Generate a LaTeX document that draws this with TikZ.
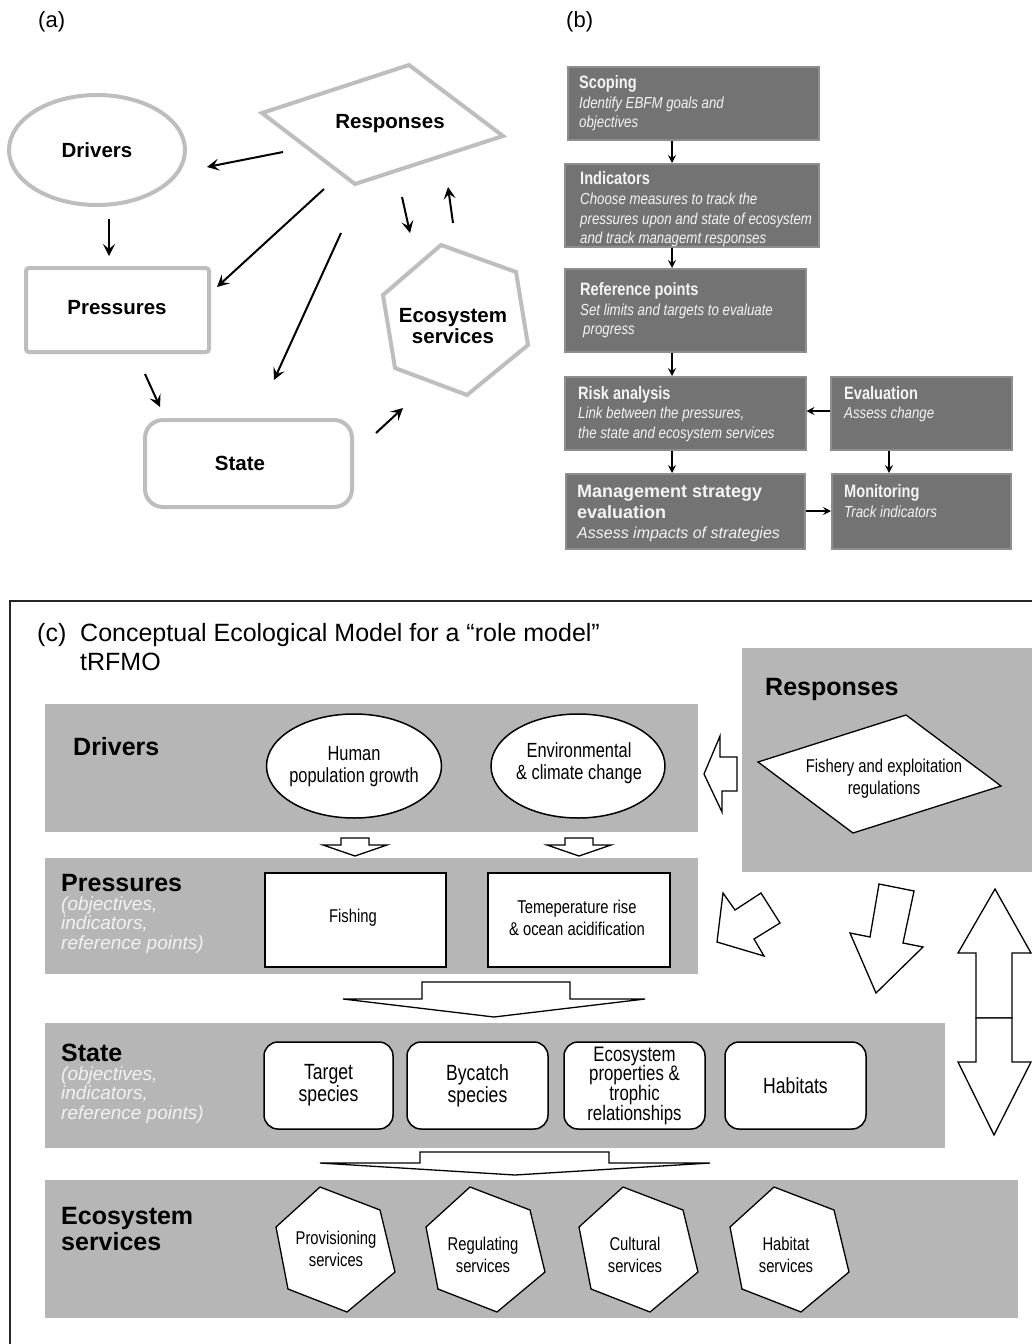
\documentclass[tikz,border=0pt]{standalone}
\usepackage{fontspec}
\setmainfont{Liberation Sans}
\newfontfamily\nar[FakeStretch=0.8]{Liberation Sans}
\newfontfamily\narbt[FakeStretch=0.81]{Liberation Sans}
\newfontfamily\narbi[FakeStretch=0.83]{Liberation Sans}
\usetikzlibrary{shapes.geometric,arrows.meta,calc}
\definecolor{agray}{HTML}{BEBEBE}
\definecolor{bfill}{HTML}{737373}
\definecolor{bline}{HTML}{8E8E8E}
\definecolor{bwhite}{HTML}{F4F4F4}
\definecolor{bandgray}{HTML}{B6B6B6}
\definecolor{itg}{HTML}{F2F2F2}
\begin{document}
\begin{tikzpicture}[x=1pt,y=-1pt,
  agr/.style={draw=agray, line width=4pt},
  aarrow/.style={line width=2pt, -{Stealth[length=12pt,width=12pt,inset=5pt]}},
  atxt/.style={font=\fontsize{20.5}{21}\selectfont\bfseries, align=center, inner sep=0pt},
  bbox/.style={fill=bfill, draw=bline, line width=1.5pt, anchor=north west, inner sep=0pt},
  btitle/.style={font=\narbt\fontsize{18}{20}\selectfont\bfseries, text=bwhite, anchor=base west, inner sep=0pt},
  bital/.style={font=\narbi\fontsize{16}{19}\selectfont\itshape, text=bwhite, anchor=base west, inner sep=0pt},
  mtitle/.style={font=\fontsize{18}{20}\selectfont\bfseries, text=bwhite, anchor=base west, inner sep=0pt},
  mital/.style={font=\fontsize{16}{19}\selectfont\itshape, text=bwhite, anchor=base west, inner sep=0pt},
  barrow/.style={line width=1.5pt, -{Stealth[length=8pt,width=8pt,inset=3pt]}},
  bandbox/.style={fill=bandgray, anchor=north west, inner sep=0pt},
  clabel/.style={font=\fontsize{25}{30}\selectfont\bfseries, anchor=base west, inner sep=0pt},
  cital/.style={font=\fontsize{19}{20}\selectfont\itshape, text=itg, anchor=base west, inner sep=0pt},
  wbox/.style={draw, fill=white, line width=1.5pt, inner sep=0pt, font=\nar\fontsize{18.5}{22}\selectfont, align=center},
  stbox/.style={draw, fill=white, line width=1.5pt, inner sep=0pt, rounded corners=14pt, font=\nar\fontsize{22}{22}\selectfont, align=center, minimum height=87pt},
  wtxt/.style={font=\nar\fontsize{18.5}{22}\selectfont, align=center, inner sep=0pt},
  blockarrow/.style={draw, fill=white, line width=1.3pt, line join=miter},
  hexc/.style={draw, fill=white, line width=1.3pt, line join=miter},
  ttl/.style={font=\fontsize{25}{30}\selectfont, anchor=base west, inner sep=0pt}
]
\useasboundingbox (0,0) rectangle (1032,1344);
\fill[white] (0,0) rectangle (1032,1344);

% ---------------- panel labels
\node[font=\fontsize{22}{24}\selectfont, anchor=west, inner sep=0pt] (la) at (38,22) {(a)};
\node[font=\fontsize{22}{24}\selectfont, anchor=west, inner sep=0pt] (lb) at (566,22) {(b)};

% ---------------- panel (a)
\node[ellipse, agr, minimum width=176pt, minimum height=110pt, inner sep=0pt] (adrv) at (97,150) {};
\node[atxt] (adrvt) at (97,150) {Drivers};
\coordinate (r1) at (262,113);
\coordinate (r2) at (409,65);
\coordinate (r3) at (503,136);
\coordinate (r4) at (355,184);
\draw[agr, line join=miter] (r1) -- (r2) -- (r3) -- (r4) -- cycle;
\node[atxt] (arest) at (390,124) {Responses};
\node[agr, rounded corners=3pt, minimum width=183pt, minimum height=84pt, inner sep=0pt] (apres) at (117.5,310) {};
\node[atxt] (aprest) at (117,308) {Pressures};
\node[agr, rounded corners=18pt, minimum width=207pt, minimum height=87pt, inner sep=0pt] (astate) at (248.5,463.5) {};
\node[atxt] (astatet) at (240,463) {State};
\draw[agr, line join=miter] (441,245) -- (516,272) -- (528,345) -- (467,395) -- (395,368) -- (383,295) -- cycle;
\node[atxt] (aecot) at (453,326) {Ecosystem\\services};

\coordinate (a1s) at (283,152); \coordinate (a1e) at (207,167);
\coordinate (a2s) at (109,219); \coordinate (a2e) at (109,256);
\coordinate (a3s) at (324,189); \coordinate (a3e) at (217,287);
\coordinate (a4s) at (341,233); \coordinate (a4e) at (274,380);
\coordinate (a5s) at (145,374); \coordinate (a5e) at (160,407);
\coordinate (a6s) at (376,433); \coordinate (a6e) at (403,408);
\coordinate (a7s) at (402,197); \coordinate (a7e) at (410,233);
\coordinate (a8s) at (453,223); \coordinate (a8e) at (448,187);
\foreach \i in {1,...,8} { \draw[aarrow] (a\i s) -- (a\i e); }

% ---------------- panel (b)
\node[bbox, minimum width=251pt, minimum height=73pt] (scop) at (567,66) {};
\node[btitle] (scopt) at (579,88) {Scoping};
\node[bital] (scop1) at (579,108) {Identify EBFM goals and};
\node[bital] (scop2) at (579,127) {objectives};

\node[bbox, minimum width=254pt, minimum height=83pt] (ind) at (564,163) {};
\node[btitle] (indt) at (580,184) {Indicators};
\node[bital] (ind1) at (580,204) {Choose measures to track the};
\node[bital] (ind2) at (580,224) {pressures upon and state of ecosystem};
\node[bital] (ind3) at (580,243) {and track managemt responses};

\node[bbox, minimum width=241pt, minimum height=83pt] (ref) at (564,268) {};
\node[btitle] (reft) at (580,295) {Reference points};
\node[bital] (ref1) at (580,315) {Set limits and targets to evaluate};
\node[bital] (ref2) at (583,334) {progress};

\node[bbox, minimum width=241pt, minimum height=73pt] (risk) at (564,376) {};
\node[btitle] (riskt) at (578,399) {Risk analysis};
\node[bital] (risk1) at (578,418) {Link between the pressures,};
\node[bital] (risk2) at (578,438) {the state and ecosystem services};

\node[bbox, minimum width=181pt, minimum height=73pt] (eval) at (830,376) {};
\node[btitle] (evalt) at (844,399) {Evaluation};
\node[bital] (eval1) at (844,418) {Assess change};

\node[bbox, minimum width=239pt, minimum height=75pt] (mse) at (565,473) {};
\node[mtitle] (mset) at (577,497) {Management strategy};
\node[mtitle] (mset2) at (577,518) {evaluation};
\node[mital] (mse1) at (577,538) {Assess impacts of strategies};

\node[bbox, minimum width=179pt, minimum height=75pt] (mon) at (831,473) {};
\node[btitle] (mont) at (844,497) {Monitoring};
\node[bital] (mon1) at (844,517) {Track indicators};

\coordinate (bx) at (672,0);
\coordinate (bx2) at (889,0);
\coordinate (by1) at (0,411);
\coordinate (by2) at (0,511);
\draw[barrow] (scop.south -| bx) -- (ind.north -| bx);
\draw[barrow] (ind.south -| bx) -- (ref.north -| bx);
\draw[barrow] (ref.south -| bx) -- (risk.north -| bx);
\draw[barrow] (risk.south -| bx) -- (mse.north -| bx);
\draw[barrow] (eval.west |- by1) -- (risk.east |- by1);
\draw[barrow] (eval.south -| bx2) -- (mon.north -| bx2);
\draw[barrow] (mse.east |- by2) -- (mon.west |- by2);

% ---------------- panel (c)
\draw[line width=1.5pt, draw=black!85] (10,1344) -- (10,601) -- (1034,601);
\node[ttl] (ct0) at (37,641) {(c)};
\node[ttl] (ct1) at (80,641) {Conceptual Ecological Model for a “role model”};
\node[ttl] (ct2) at (80,670) {tRFMO};

% bands
\node[bandbox, minimum width=653pt, minimum height=128pt] (bdrv) at (45,704) {};
\node[bandbox, minimum width=292pt, minimum height=224pt] (bresp) at (742,648) {};
\node[bandbox, minimum width=653pt, minimum height=116pt] (bpres) at (45,858) {};
\node[bandbox, minimum width=900pt, minimum height=125pt] (bstate) at (45,1023) {};
\node[bandbox, minimum width=973pt, minimum height=138pt] (beco) at (45,1180) {};

% labels
\node[clabel] (ldrv) at (73,755) {Drivers};
\node[clabel] (lresp) at (765,695) {Responses};
\node[clabel] (lpres) at (61,891) {Pressures};
\node[cital] (lpres1) at (61,910) {(objectives,};
\node[cital] (lpres2) at (61,929) {indicators,};
\node[cital] (lpres3) at (61,949) {reference points)};
\node[clabel] (lstate) at (61,1061) {State};
\node[cital] (lstate1) at (61,1080) {(objectives,};
\node[cital] (lstate2) at (61,1099) {indicators,};
\node[cital] (lstate3) at (61,1119) {reference points)};
\node[clabel] (leco1) at (61,1224) {Ecosystem};
\node[clabel] (leco2) at (61,1250) {services};

% drivers
\node[ellipse, draw, fill=white, line width=1.5pt, minimum width=175pt, minimum height=104pt, inner sep=0pt] (hpg) at (354,766) {};
\node[wtxt, font=\nar\fontsize{20.5}{22}\selectfont] (hpgt) at (354,767) {Human\\population growth};
\node[ellipse, draw, fill=white, line width=1.5pt, minimum width=174pt, minimum height=104pt, inner sep=0pt] (ecc) at (578,766) {};
\node[wtxt, font=\nar\fontsize{20.5}{22}\selectfont] (ecct) at (579,763) {Environmental\\\& climate change};

% responses parallelogram
\draw[draw, fill=white, line width=1.3pt, line join=miter] (758,762) -- (906,715) -- (1001,786) -- (853,833) -- cycle;
\node[wtxt] (fisht) at (884,779) {Fishery and exploitation\\regulations};

% pressures boxes
\node[wbox, minimum width=181pt, minimum height=94pt, anchor=north west] (fishing) at (264,872) {};
\node[wtxt] (fishingt) at (353,918) {Fishing};
\node[wbox, minimum width=182pt, minimum height=94pt, anchor=north west] (temp) at (487,872) {};
\node[wtxt] (tempt) at (577,918) {Temeperature rise\\\& ocean acidification};

% state boxes
\node[stbox, minimum width=129pt] (tgt) at (328.5,1085.5) {Target\\species};
\node[stbox, minimum width=141pt] (byc) at (477.5,1085.5) {Bycatch\\species};
\node[stbox, minimum width=141pt, font=\nar\fontsize{21}{19.7}\selectfont] (eprop) at (634.5,1085.5) {Ecosystem\\properties \&\\trophic\\relationships};
\node[stbox, minimum width=141pt] (hab) at (795.5,1085.5) {Habitats};

% hexagons
\foreach \cx/\nm in {335/prov,485/regu,638/cult,789/habs} {
  \draw[hexc, shift={(\cx,1250)}] (-15,-63) -- (45,-40) -- (60,22) -- (12,62) -- (-47,39) -- (-59,-23) -- cycle;
}
\node[wtxt] (provt) at (336,1249) {Provisioning\\services};
\node[wtxt] (regut) at (483,1255) {Regulating\\services};
\node[wtxt] (cultt) at (635,1255) {Cultural\\services};
\node[wtxt] (habst) at (786,1255) {Habitat\\services};

% block arrows
\foreach \cx in {355,579} {
  \draw[blockarrow, shift={(\cx,0)}] (-14,838) -- (14,838) -- (14,845) -- (32,845) -- (0,856) -- (-32,845) -- (-14,845) -- cycle;
}
\draw[blockarrow] (737,757) -- (720,757) -- (720,736) -- (704,774) -- (722,812) -- (722,791) -- (737,791) -- cycle;
\draw[blockarrow] (422,982) -- (570,982) -- (570,999) -- (645,999) -- (494,1017) -- (343,999) -- (422,999) -- cycle;
\draw[blockarrow] (420,1152) -- (609,1152) -- (609,1163) -- (710,1163) -- (515,1175) -- (320,1163) -- (420,1163) -- cycle;
\draw[blockarrow] (723,893) -- (735,910) -- (761,893) -- (780,923) -- (754,939) -- (764,956) -- (717,942) -- cycle;
\draw[blockarrow] (879,884) -- (914,891) -- (903,943) -- (923,947) -- (876,993) -- (850,933) -- (870,937) -- cycle;
\draw[blockarrow] (976,1018) -- (976,953) -- (958,953) -- (995,889) -- (1031,953) -- (1012,953) -- (1012,1018) -- cycle;
\draw[blockarrow] (976,1018) -- (976,1062) -- (958,1062) -- (994,1135) -- (1031,1062) -- (1012,1062) -- (1012,1018) -- cycle;
\end{tikzpicture}
\end{document}
